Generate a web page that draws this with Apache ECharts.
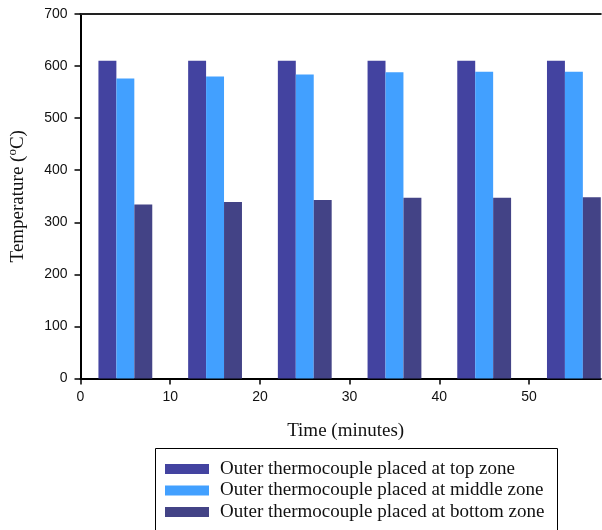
<!DOCTYPE html>
<html>
<head>
<meta charset="utf-8">
<script src="https://cdn.jsdelivr.net/npm/echarts@6/dist/echarts.min.js"></script>
<style>
  html, body { margin: 0; padding: 0; background: #fff; }
  #chart { width: 602px; height: 530px; }
</style>
</head>
<body>
<div id="chart"></div>
<script>
// Time (minutes) at which each reading was taken, one position per zone
const timesTop    = [3, 13, 23, 33, 43, 53];
const timesMiddle = [5, 15, 25, 35, 45, 55];
const timesBottom = [7, 17, 27, 37, 47, 57];

// Temperatures (°C) of the outer thermocouples
const tempTop    = [610, 610, 610, 610, 610, 610];
const tempMiddle = [576, 580, 584, 588, 589, 589];
const tempBottom = [334, 339, 343, 347, 347, 348];

const seriesNames = [
  'Outer thermocouple placed at top zone',
  'Outer thermocouple placed at middle zone',
  'Outer thermocouple placed at bottom zone'
];
const seriesColors = ['#4343A0', '#42A0FF', '#434386'];

// width of each bar, in minutes
const BAR_SPAN = 2;

function pairs(xs, ys) {
  return xs.map((x, i) => [x, ys[i]]);
}

function renderBar(params, api) {
  const x = api.value(0);
  const y = api.value(1);
  const p0 = api.coord([x - BAR_SPAN / 2, y]);
  const p1 = api.coord([x + BAR_SPAN / 2, 0]);
  return {
    type: 'rect',
    shape: { x: p0[0], y: p0[1], width: p1[0] - p0[0], height: p1[1] - p0[1] },
    style: { fill: api.visual('color') }
  };
}

function barSeries(name, color, data) {
  return {
    name: name,
    type: 'custom',
    renderItem: renderBar,
    encode: { x: 0, y: 1 },
    itemStyle: { color: color },
    data: data
  };
}

const chart = echarts.init(document.getElementById('chart'), null, { renderer: 'canvas' });

const tickFont = { fontFamily: 'Liberation Sans, Arial, sans-serif', fontSize: 14, color: '#111' };
const serif = 'Liberation Serif, Times New Roman, serif';

chart.setOption({
  animation: false,
  backgroundColor: '#fff',
  grid: { left: 80.5, right: 1.2, top: 14, bottom: 151.5, outerBoundsMode: 'none' },
  // frame around the legend, running off the bottom edge
  graphic: [{
    type: 'rect',
    x: 0,
    y: 0,
    shape: { x: 155.5, y: 448.5, width: 402, height: 100 },
    style: { fill: 'none', stroke: '#000', lineWidth: 1 },
    silent: true
  }],
  xAxis: [
    {
      type: 'value',
      min: 0,
      max: 58,
      interval: 10,
      name: 'Time (minutes)',
      nameLocation: 'middle',
      nameGap: 43,
      nameTextStyle: { fontFamily: serif, fontSize: 19, color: '#111', padding: [0, 0, 0, 10] },
      axisLine: { show: true, onZero: false, lineStyle: { color: '#000', width: 2 } },
      axisTick: { show: true, length: 6, lineStyle: { color: '#000', width: 1.5 } },
      axisLabel: Object.assign({ margin: 12, showMaxLabel: false }, tickFont),
      splitLine: { show: false }
    },
    {
      type: 'value',
      position: 'top',
      min: 0,
      max: 58,
      axisLine: { show: true, onZero: false, lineStyle: { color: '#222', width: 2 } },
      axisTick: { show: false },
      axisLabel: { show: false },
      splitLine: { show: false }
    }
  ],
  yAxis: {
    type: 'value',
    min: 0,
    max: 700,
    interval: 100,
    name: 'Temperature ({sup|o}C)',
    nameLocation: 'middle',
    nameGap: 51,
    nameTextStyle: {
      fontFamily: serif,
      fontSize: 19,
      color: '#111',
      rich: {
        sup: { fontFamily: serif, fontSize: 13, color: '#111', padding: [0, 0, 10, 0] }
      }
    },
    axisLine: { show: true, lineStyle: { color: '#000', width: 2 } },
    axisTick: { show: true, length: 6, lineStyle: { color: '#000', width: 1.5 } },
    axisLabel: Object.assign({ margin: 13 }, tickFont),
    splitLine: { show: false }
  },
  legend: {
    orient: 'vertical',
    left: 155,
    top: 448,
    padding: [11, 12, 6, 10],
    itemWidth: 44,
    itemHeight: 10,
    itemGap: 1.5,
    icon: 'rect',
    selectedMode: false,
    textStyle: { fontFamily: serif, fontSize: 19, color: '#111', lineHeight: 20, padding: [0, 0, 0, 6] },
    data: seriesNames
  },
  series: [
    barSeries(seriesNames[0], seriesColors[0], pairs(timesTop, tempTop)),
    barSeries(seriesNames[1], seriesColors[1], pairs(timesMiddle, tempMiddle)),
    barSeries(seriesNames[2], seriesColors[2], pairs(timesBottom, tempBottom))
  ]
});
</script>
</body>
</html>
